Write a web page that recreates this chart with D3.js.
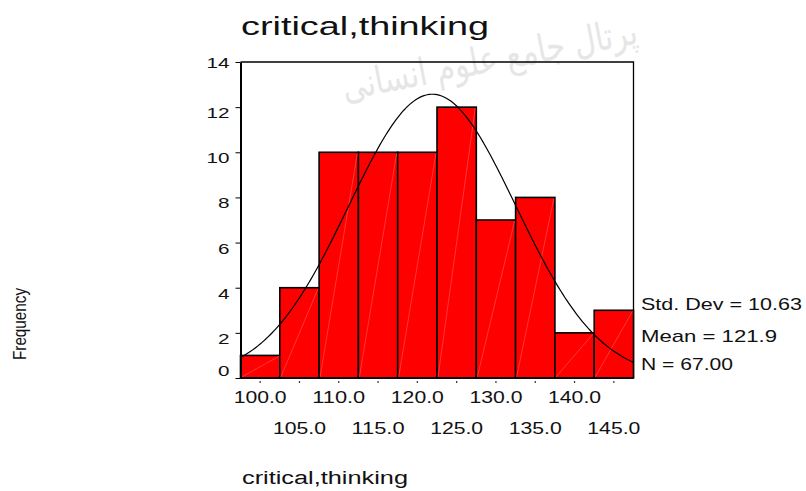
<!DOCTYPE html>
<html>
<head>
<meta charset="utf-8">
<script src="https://cdn.jsdelivr.net/npm/d3@7"></script>
<style>
  html, body { margin: 0; padding: 0; background: #fff; }
  svg { display: block; font-family: "Liberation Sans", Arial, sans-serif; }
</style>
</head>
<body>
<svg id="chart"></svg>
<script>
// histogram bins (centers) and frequencies
const binCenters = [100, 105, 110, 115, 120, 125, 130, 135, 140, 145];
const counts = [1, 4, 10, 10, 10, 12, 7, 8, 2, 3];
const binWidth = 5;
const yTicks = [0, 2, 4, 6, 8, 10, 12, 14];
const xLabelsTop = ['100.0', '110.0', '120.0', '130.0', '140.0'];
const xLabelsBottom = ['105.0', '115.0', '125.0', '135.0', '145.0'];
// summary stats shown in the chart
const stdDev = 10.63;
const mean = 121.9;
const nTotal = 67;
const statsLabels = ['Std. Dev = 10.63', 'Mean = 121.9', 'N = 67.00'];

const width = 806, height = 491;
const svg = d3.select('#chart').attr('width', width).attr('height', height);

const x = d3.scaleLinear()
    .domain([binCenters[0] - binWidth / 2, binCenters[binCenters.length - 1] + binWidth / 2])
    .range([240.5, 633.5]);
const y = d3.scaleLinear().domain([0, 14]).range([378, 62]);

// faint watermark
svg.append('text')
    .attr('x', 490).attr('y', 72)
    .attr('transform', 'rotate(-11,490,62)')
    .attr('text-anchor', 'middle')
    .attr('textLength', 300).attr('lengthAdjust', 'spacingAndGlyphs')
    .style('font-family', '"DejaVu Sans", sans-serif')
    .style('font-size', '38px')
    .style('fill', '#e6e6e6')
    .text('پرتال جامع علوم انسانی');

// title
svg.append('text')
    .attr('x', 241).attr('y', 35)
    .attr('textLength', 248).attr('lengthAdjust', 'spacingAndGlyphs')
    .style('font-size', '26px').style('fill', '#111')
    .text('critical,thinking');

// frame top + right
svg.append('path')
    .attr('d', `M${x.range()[0]},${y(14)}H${x.range()[1]}V${y(0)}`)
    .attr('fill', 'none').attr('stroke', '#000').attr('stroke-width', 1.3);

// bars
const bars = svg.append('g');
bars.selectAll('rect')
    .data(binCenters)
    .enter()
    .append('rect')
    .attr('x', d => x(d - binWidth / 2))
    .attr('width', d => x(d + binWidth / 2) - x(d - binWidth / 2))
    .attr('y', (d, i) => y(counts[i]))
    .attr('height', (d, i) => y(0) - y(counts[i]))
    .attr('fill', '#ff0000')
    .attr('stroke', '#000')
    .attr('stroke-width', 1.6);

// faint diagonal streaks inside bars
bars.selectAll('line.streak')
    .data(binCenters)
    .enter()
    .append('line')
    .attr('class', 'streak')
    .attr('x1', d => x(d - binWidth / 2) + 1)
    .attr('y1', y(0) - 1)
    .attr('x2', d => x(d + binWidth / 2) - 1)
    .attr('y2', (d, i) => y(counts[i]) + 1)
    .attr('stroke', '#ff5a5a')
    .attr('stroke-width', 0.6);

// normal curve from mean / sd / N
const curveXs = d3.range(x.domain()[0], x.domain()[1] + 0.001, 0.25);
const normal = v => nTotal * binWidth / (stdDev * Math.sqrt(2 * Math.PI)) *
    Math.exp(-0.5 * Math.pow((v - mean) / stdDev, 2));
svg.append('path')
    .datum(curveXs)
    .attr('d', d3.line().x(d => x(d)).y(d => y(normal(d))))
    .attr('fill', 'none')
    .attr('stroke', '#000')
    .attr('stroke-width', 1.2);

// y axis
const yAxis = svg.append('g')
    .attr('transform', `translate(${x.range()[0]},0)`)
    .call(d3.axisLeft(y).tickValues(yTicks).tickSize(5).tickPadding(6).tickSizeOuter(0));
yAxis.select('.domain').attr('stroke', '#000').attr('stroke-width', 2);
yAxis.selectAll('.tick line').attr('stroke', '#000');
yAxis.selectAll('.tick text')
    .attr('dy', d => d === 0 ? '-0.2em' : d === 14 ? '0.35em' : '0.7em')
    .attr('textLength', d => String(d).length * 11.5)
    .attr('lengthAdjust', 'spacingAndGlyphs')
    .style('font-size', '15px')
    .style('font-family', '"Liberation Sans", Arial, sans-serif')
    .style('fill', '#111');

// x axis baseline
svg.append('line')
    .attr('x1', x.range()[0]).attr('x2', x.range()[1])
    .attr('y1', y(0)).attr('y2', y(0))
    .attr('stroke', '#000').attr('stroke-width', 1.5);

// small tick dots below bins
svg.selectAll('line.xtick')
    .data(binCenters)
    .enter()
    .append('line')
    .attr('class', 'xtick')
    .attr('x1', d => x(d)).attr('x2', d => x(d))
    .attr('y1', y(0) + 3).attr('y2', y(0) + 5)
    .attr('stroke', '#333').attr('stroke-width', 1.2);

// staggered x labels
svg.selectAll('text.xl1')
    .data(xLabelsTop)
    .enter()
    .append('text')
    .attr('class', 'xl1')
    .attr('x', d => x(+d) - 26.5)
    .attr('y', 403)
    .attr('textLength', 53).attr('lengthAdjust', 'spacingAndGlyphs')
    .style('font-size', '16px').style('fill', '#111')
    .text(d => d);
svg.selectAll('text.xl2')
    .data(xLabelsBottom)
    .enter()
    .append('text')
    .attr('class', 'xl2')
    .attr('x', d => x(+d) - 26.5)
    .attr('y', 434)
    .attr('textLength', 53).attr('lengthAdjust', 'spacingAndGlyphs')
    .style('font-size', '16px').style('fill', '#111')
    .text(d => d);

// stats box text
const statWidths = [161, 136, 92];
svg.selectAll('text.stat')
    .data(statsLabels)
    .enter()
    .append('text')
    .attr('class', 'stat')
    .attr('x', 641)
    .attr('y', (d, i) => [310, 341.5, 370][i])
    .attr('textLength', (d, i) => statWidths[i]).attr('lengthAdjust', 'spacingAndGlyphs')
    .style('font-size', '17px').style('fill', '#111')
    .text(d => d);

// axis titles
svg.append('text')
    .attr('transform', 'translate(26,360) rotate(-90)')
    .attr('textLength', 72).attr('lengthAdjust', 'spacingAndGlyphs')
    .style('font-size', '18px').style('fill', '#111')
    .text('Frequency');

svg.append('text')
    .attr('x', 242).attr('y', 484)
    .attr('textLength', 166).attr('lengthAdjust', 'spacingAndGlyphs')
    .style('font-size', '18px').style('fill', '#111')
    .text('critical,thinking');
</script>
</body>
</html>
